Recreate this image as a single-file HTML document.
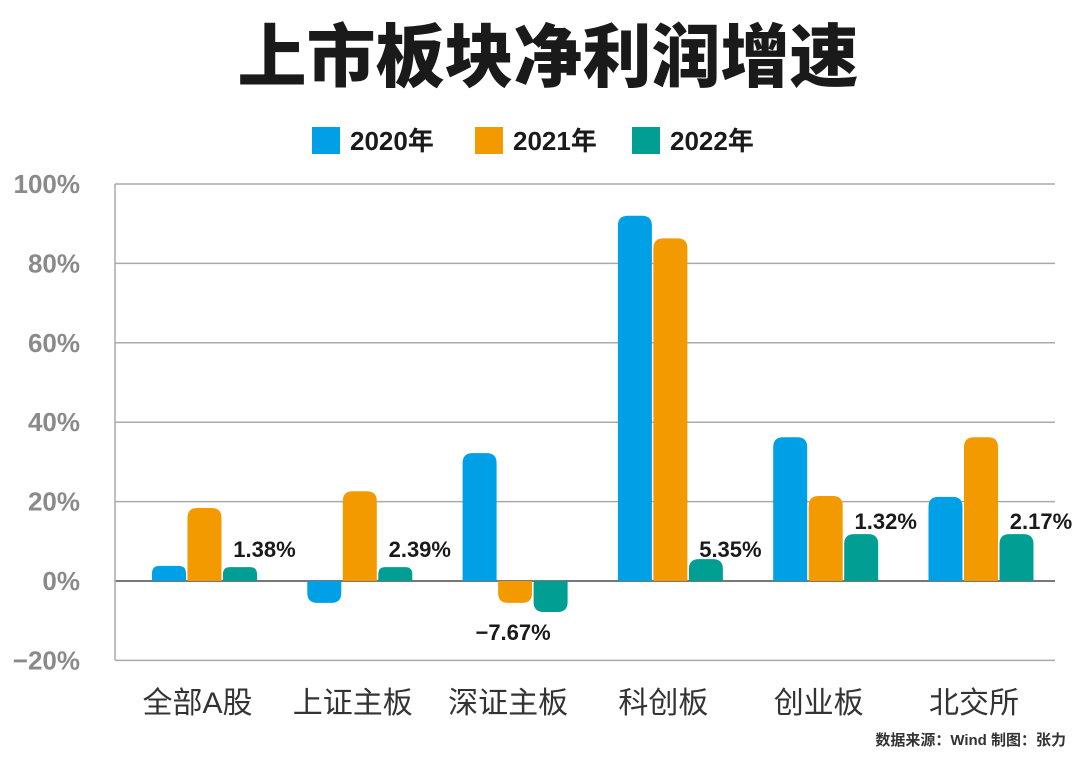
<!DOCTYPE html>
<html><head><meta charset="utf-8"><style>
body{margin:0;background:#fff;width:1080px;height:758px;overflow:hidden}
svg{display:block}
</style></head><body>
<svg id="c" width="1080" height="758" font-family="'Liberation Sans','Noto Sans CJK SC',sans-serif">
<text x="548" y="81" text-anchor="middle" font-size="69" font-weight="900" fill="#1a1a1a">上市板块净利润增速</text>
<g id="legend"></g>
<g id="grid"></g><g id="bars"></g><g id="labels"></g>
<text x="1066" y="745" text-anchor="end" font-size="15" font-weight="bold" fill="#333">数据来源：Wind 制图：张力</text>
</svg>
<script>
const categories=["全部A股","上证主板","深证主板","科创板","创业板","北交所"];
const series=["2020年","2021年","2022年"];
const v2020=[3.8,-5.5,32.2,92,36.2,21.2];
const v2021=[18.4,22.6,-5.5,86.3,21.4,36.2];
const v2022=[3.5,3.5,-7.8,5.5,11.8,11.8];
const labels2022=["1.38%","2.39%","-7.67%","5.35%","1.32%","2.17%"];
const yTicks=[100,80,60,40,20,0,-20];
const colors=["#00a0e6","#f29a00","#009e93"];
const NS="http://www.w3.org/2000/svg";
const y=v=>581-v*3.97;
const gx=i=>204.5+i*155.3;
function mk(t,a,p){const e=document.createElementNS(NS,t);for(const k in a)e.setAttribute(k,a[k]);(p||svg).appendChild(e);return e;}
const svg=document.getElementById('c');
const grid=document.getElementById('grid'),bars=document.getElementById('bars'),lab=document.getElementById('labels'),leg=document.getElementById('legend');
yTicks.forEach(t=>{
 const l=mk('line',{x1:115,x2:1055,y1:y(t),y2:y(t),stroke:t===0?'#777':'#aaa','stroke-width':t===0?2:1.5},grid);
 
 
 const tx=mk('text',{x:80,y:y(t)+9,'text-anchor':'end','font-size':26,'font-weight':'bold',fill:'#8a8a8a'},grid);
 tx.textContent=(t<0?'−':'')+Math.abs(t)+'%';
 
 
});
mk('line',{x1:115,x2:115,y1:184,y2:660,stroke:'#aaa','stroke-width':1.5},grid);
const all=[v2020,v2021,v2022];
function barPath(x,w,v){const r=10,y0=y(0),y1=y(v);const h=Math.abs(y1-y0);const rr=Math.min(r,h/2,w/2);
 if(v>=0)return `M${x},${y0}V${y1+rr}Q${x},${y1} ${x+rr},${y1}H${x+w-rr}Q${x+w},${y1} ${x+w},${y1+rr}V${y0}Z`;
 return `M${x},${y0}V${y1-rr}Q${x},${y1} ${x+rr},${y1}H${x+w-rr}Q${x+w},${y1} ${x+w},${y1-rr}V${y0}Z`;}
categories.forEach((c,i)=>{
 all.forEach((arr,s)=>{
  const x=gx(i)+(s-1)*35.5-17;
  const p=mk('path',{d:barPath(x,34,arr[i]),fill:colors[s]},bars);
  
  
 });
 const t=mk('text',{x:gx(i)-7,y:713,'text-anchor':'middle','font-size':30,fill:'#333'},lab);
 t.textContent=c;
 
 
 const v=v2022[i];
 const lx=v<0?gx(i)-2:gx(i)+60;
 const vl=mk('text',{x:lx,y:v<0?640:(v>8?529:557),'text-anchor':'middle','font-size':22,'font-weight':'bold',fill:'#1a1a1a'},lab);
 vl.textContent=labels2022[i].replace('-','−');
 
 
});
const lx=[312,475,632];
series.forEach((s,i)=>{
 const r=mk('rect',{x:lx[i],y:127,width:28,height:27,fill:colors[i]},leg);
 
 
 const t=mk('text',{x:lx[i]+38,y:150,'font-size':26,'font-weight':'bold',fill:'#1a1a1a'},leg);
 t.textContent=s;
 
 
});
</script>
</body></html>
